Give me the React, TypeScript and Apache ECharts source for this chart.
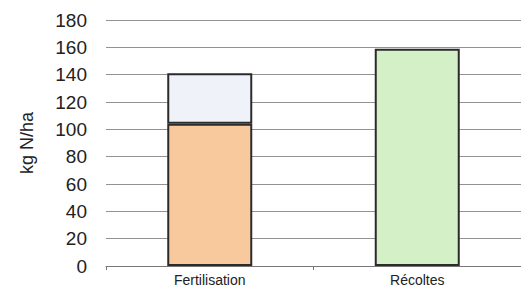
import React, { useEffect, useRef } from "react";
import * as echarts from "echarts";

const categories = ["Fertilisation", "Récoltes"];
const baseValues = [104, 159];
const topValues: (number | null)[] = [37, null];
const baseColors = ["#f8c99c", "#d3f0c6"];
const topColor = "#eff2f8";
const yTicks = { min: 0, max: 180, interval: 20 };
const yAxisName = "kg N/ha";

export default function App() {
  const ref = useRef<HTMLDivElement>(null);
  useEffect(() => {
    const chart = echarts.init(ref.current!, null, { renderer: "svg" });
    const font = "Liberation Sans, Arial, sans-serif";
    chart.setOption({
      animation: false,
      backgroundColor: "#ffffff",
      grid: { left: 106, top: 20, width: 420, height: 246 },
      xAxis: {
        type: "category",
        data: categories,
        axisLine: { show: true, lineStyle: { color: "#777", width: 1 } },
        axisTick: { show: true, length: 4, alignWithLabel: false, lineStyle: { color: "#777" } },
        axisLabel: { color: "#222", fontSize: 14, fontFamily: font, margin: 7 },
      },
      yAxis: {
        type: "value",
        min: yTicks.min,
        max: yTicks.max,
        interval: yTicks.interval,
        name: yAxisName,
        nameLocation: "middle",
        nameGap: 70,
        nameRotate: 90,
        nameTextStyle: { color: "#222", fontSize: 18, fontFamily: font },
        axisLine: { show: false },
        axisTick: { show: false },
        axisLabel: { color: "#222", fontSize: 19, fontFamily: font, margin: 19 },
        splitLine: { show: true, lineStyle: { color: "#929292", width: 1 } },
      },
      series: [
        {
          type: "bar",
          stack: "total",
          barWidth: 85,
          data: baseValues.map((v, i) => ({
            value: v,
            itemStyle: { color: baseColors[i] },
          })),
          itemStyle: { borderColor: "#2b2b2b", borderWidth: 2 },
        },
        {
          type: "bar",
          stack: "total",
          barWidth: 85,
          data: topValues,
          itemStyle: { color: topColor, borderColor: "#2b2b2b", borderWidth: 2 },
        },
      ],
    });
    return () => chart.dispose();
  }, []);
  return <div ref={ref} style={{ width: 521, height: 288, position: "absolute", left: 0, top: 0 }} />;
}
